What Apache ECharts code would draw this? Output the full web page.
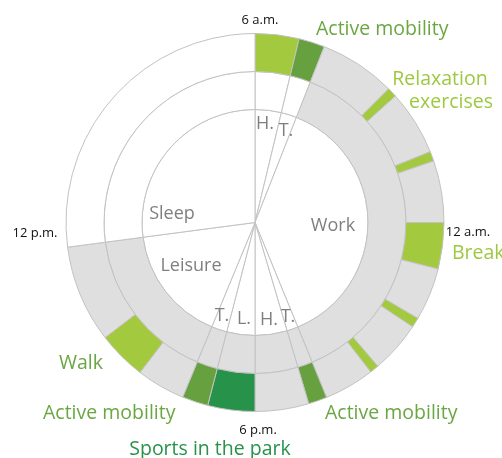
<!DOCTYPE html>
<html><head><meta charset="utf-8">
<script src="https://cdn.jsdelivr.net/npm/echarts@6/dist/echarts.min.js"></script>
<style>html,body{margin:0;padding:0;background:#fff}#c{width:502px;height:458px}</style>
</head><body><div id="c"></div>
<script>
// Times are clock times; the dial starts at 6 a.m. (top) and runs clockwise over 24 h.
const innerNames  = ['H.', 'T.', 'Work', 'T.', 'H.', 'L.', 'T.', 'Leisure', 'Sleep'];
const innerStarts = ['6:00', '6:54', '7:26', '16:31', '16:54', '18:00', '18:58', '19:30', '23:30'];
// middle ring: 1 = grey band, 0 = empty, one value per inner sector
const middleFlags = [0, 0, 1, 1, 1, 1, 1, 1, 0];
// outer ring activities
const outerTypes  = ['hygiene', 'mobility', 'none', 'relax', 'none', 'relax', 'none', 'break', 'none', 'relax', 'none', 'relax', 'none', 'mobility', 'none', 'sports', 'mobility', 'none', 'walk', 'none', 'sleep'];
const outerStarts = ['6:00', '6:54', '7:26', '9:00', '9:12', '10:32', '10:44', '12:00', '12:57', '14:02', '14:14', '15:18', '15:29', '16:31', '16:54', '18:00', '18:58', '19:30', '20:30', '21:30', '23:30'];
const clockLabels = ['6 a.m.', '12 a.m.', '6 p.m.', '12 p.m.'];

function toMin(t) { const p = t.split(':'); let m = (+p[0]) * 60 + (+p[1]) - 360; if (m < 0) m += 1440; return m; }
function durations(starts) {
  const s = starts.map(toMin);
  return s.map((v, i) => (i < s.length - 1 ? s[i + 1] : 1440) - v);
}
const GREY = '#dfdfdf', BORDER = '#c2c2c2';
const typeColor = { hygiene: '#a3ca3e', mobility: '#67a13f', none: GREY, relax: '#a3ca3e', break: '#a3ca3e', sports: '#26924a', walk: '#a3ca3e', sleep: '#ffffff' };

const innerDur = durations(innerStarts);
const outerDur = durations(outerStarts);
const C = [255, 222.5];
const baseItem = { borderColor: BORDER, borderWidth: 1 };
function pie(radius, data) {
  return { type: 'pie', center: C, radius: radius, startAngle: 90, clockwise: true, silent: true, z: 2,
    label: { show: false }, labelLine: { show: false }, emphasis: { disabled: true }, data: data, itemStyle: baseItem };
}
const FONT = '"Open Sans", "Noto Sans", sans-serif';
function txt(x, y, text, size, color, align) {
  return { type: 'text', x: x, y: y, silent: true, z: 100, zlevel: 0,
    style: { text: text, fill: color, font: size + 'px ' + FONT, align: align || 'center', verticalAlign: 'middle',
      textAlign: align || 'center', textVerticalAlign: 'middle' } };
}
const GRAYT = '#7f7f7f', MID = '#6aa642', LIGHT = '#9dc83f', DARK = '#27924a';
const option = {
  animation: false,
  series: [
    pie([0, 113], innerDur.map((v, i) => ({ name: innerNames[i] + i, value: v, itemStyle: { color: '#fff' } }))),
    pie([113, 151], innerDur.map((v, i) => ({ name: 'm' + i, value: v, itemStyle: { color: middleFlags[i] ? GREY : '#fff' } }))),
    pie([151, 189], outerDur.map((v, i) => ({ name: outerTypes[i] + i, value: v, itemStyle: { color: typeColor[outerTypes[i]] } })))
  ],
  graphic: { elements: [
    txt(260, 20, clockLabels[0], 13, '#111'),
    txt(468, 232, clockLabels[1], 13, '#111'),
    txt(258, 430, clockLabels[2], 13, '#111'),
    txt(35, 233, clockLabels[3], 13, '#111'),
    txt(172, 214, innerNames[8], 18, GRAYT),
    txt(333, 226, innerNames[2], 18, GRAYT),
    txt(191, 266, innerNames[7], 18, GRAYT),
    txt(265, 124, innerNames[0], 18, GRAYT),
    txt(286, 131, innerNames[1], 18, GRAYT),
    txt(222, 316, innerNames[6], 18, GRAYT),
    txt(244, 319, innerNames[5], 18, GRAYT),
    txt(269, 320, innerNames[4], 18, GRAYT),
    txt(288, 317, innerNames[3], 18, GRAYT),
    txt(316, 29, 'Active mobility', 19.5, MID, 'left'),
    txt(440, 79, 'Relaxation', 19.5, LIGHT),
    txt(451, 102, 'exercises', 19.5, LIGHT),
    txt(452, 253, 'Break', 19.5, LIGHT, 'left'),
    txt(81, 363, 'Walk', 19.5, MID),
    txt(43, 413, 'Active mobility', 19.5, MID, 'left'),
    txt(325, 413, 'Active mobility', 19.5, MID, 'left'),
    txt(210, 449, 'Sports in the park', 19.5, DARK)
  ] }
};
echarts.init(document.getElementById('c'), null, { renderer: 'canvas' }).setOption(option);
</script></body></html>
